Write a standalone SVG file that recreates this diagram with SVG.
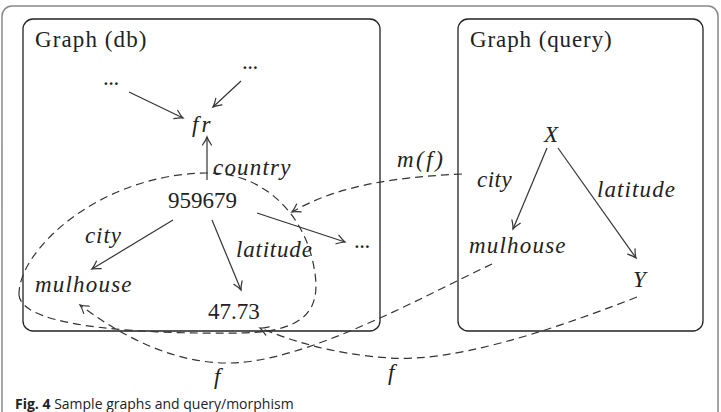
<svg xmlns="http://www.w3.org/2000/svg" width="721" height="412" viewBox="0 0 721 412">
<defs>
<marker id="arr" markerUnits="userSpaceOnUse" orient="auto" refX="0" refY="0" markerWidth="20" markerHeight="20" viewBox="-10 -10 20 20" overflow="visible">
<path d="M-8,-4.5 Q-3,-1 0,0 Q-3,1 -8,4.5" fill="none" stroke="#333" stroke-width="1.2" stroke-linecap="round"/>
</marker>
</defs>
<rect x="2" y="6" width="716" height="440" rx="10" fill="#fff" stroke="#888" stroke-width="1.5"/>
<g font-family="Liberation Serif" font-size="23" fill="#222">
<g id="db-graph">
<rect x="23" y="19" width="357" height="312" rx="10" fill="none" stroke="#222" stroke-width="1.3"/>
<text letter-spacing="1.1" x="35" y="47">Graph (db)</text>
</g>
<g id="query-graph">
<rect x="458" y="19" width="245" height="312" rx="10" fill="none" stroke="#222" stroke-width="1.3"/>
<text letter-spacing="0.9" x="470" y="47">Graph (query)</text>
</g>
<g id="n-dots1"><text letter-spacing="-0.5" x="103" y="85">...</text></g>
<g id="n-dots2"><text letter-spacing="-0.5" x="242" y="69">...</text></g>
<g id="n-fr"><text font-style="italic" letter-spacing="3" x="192" y="132">fr</text></g>
<g id="n-959679"><text x="168" y="208">959679</text></g>
<g id="n-dots3"><text letter-spacing="-0.5" x="354" y="248">...</text></g>
<g id="n-mulhouse-db"><text font-style="italic" letter-spacing="1.2" x="35" y="292">mulhouse</text></g>
<g id="n-4773"><text x="208" y="319">47.73</text></g>
<g id="n-X"><text font-style="italic" x="544" y="142">X</text></g>
<g id="n-mulhouse-q"><text font-style="italic" letter-spacing="1.2" x="469" y="253">mulhouse</text></g>
<g id="n-Y"><text font-style="italic" x="633" y="287">Y</text></g>
<g id="n-match"><path d="M19,295 C18,250 100,174 207,173 C260,172 300,210 312,258 C322,300 318,332 240,333 C160,334 22,330 19,295 Z" fill="none" stroke="#333" stroke-width="1.2" stroke-dasharray="8 5"/></g>
<g id="connectors" fill="none" stroke="#333" stroke-width="1.2">
<line x1="129" y1="92" x2="183" y2="118" marker-end="url(#arr)"/>
<line x1="241" y1="81" x2="213" y2="107" marker-end="url(#arr)"/>
<line x1="207" y1="180" x2="207" y2="137" marker-end="url(#arr)"/>
<line x1="173" y1="220" x2="92" y2="269" marker-end="url(#arr)"/>
<line x1="212" y1="220" x2="241" y2="290" marker-end="url(#arr)"/>
<line x1="257" y1="213" x2="345" y2="242" marker-end="url(#arr)"/>
<line x1="547" y1="148" x2="513" y2="229" marker-end="url(#arr)"/>
<line x1="558" y1="148" x2="636" y2="258" marker-end="url(#arr)"/>
<path stroke-dasharray="8 5" d="M462,174 C400,177 340,184 292,212" marker-end="url(#arr)"/>
<path stroke-dasharray="8 5" d="M492,264 C420,298 300,365 225,363 C170,362 120,335 80,305" marker-end="url(#arr)"/>
<path stroke-dasharray="8 5" d="M637,297 C540,335 450,362 390,358 C330,354 290,340 260,328" marker-end="url(#arr)"/>
</g>
<g id="edge-labels" font-style="italic">
<text letter-spacing="1.2" x="213" y="175">country</text>
<text letter-spacing="0.9" x="85" y="243">city</text>
<text letter-spacing="0.8" x="236" y="257">latitude</text>
<text letter-spacing="0.5" x="477" y="187">city</text>
<text letter-spacing="1.1" x="597" y="197">latitude</text>
<text letter-spacing="2.5" x="397" y="167">m(f)</text>
<text x="214" y="384">f</text>
<text x="388" y="380">f</text>
</g>
</g>
<text font-family="Open Sans" font-size="14" fill="#222" x="15" y="409"><tspan font-weight="bold">Fig. 4</tspan>  Sample graphs and query/morphism</text>
</svg>
